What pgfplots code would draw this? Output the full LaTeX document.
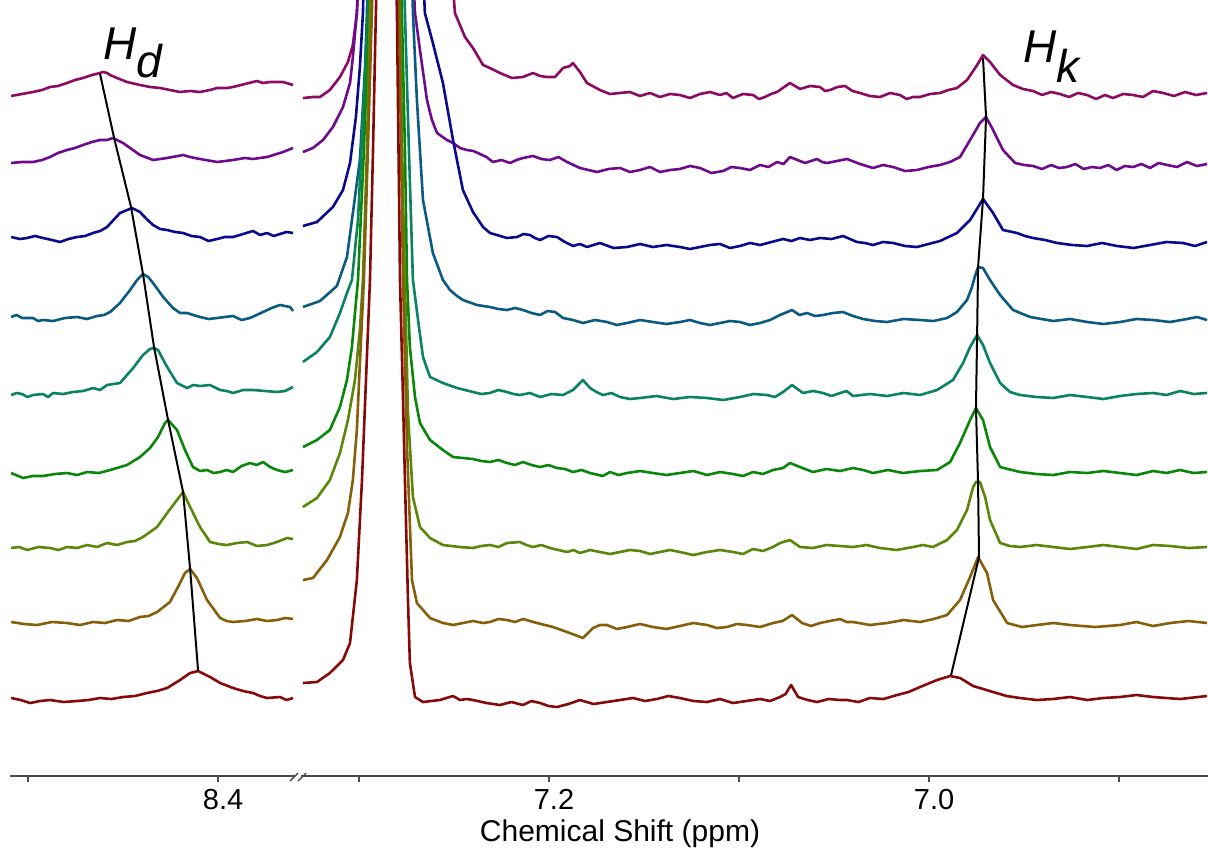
\documentclass[border=0pt]{standalone}
\usepackage{pgfplots}
\pgfplotsset{compat=1.18}
\usepackage{fontspec}
\setmainfont{Liberation Sans}

% one colour per titration step, bottom (c1) to top (c9)
\definecolor{c1}{RGB}{135,10,10}
\definecolor{c2}{RGB}{135,95,10}
\definecolor{c3}{RGB}{90,135,10}
\definecolor{c4}{RGB}{10,135,10}
\definecolor{c5}{RGB}{10,130,100}
\definecolor{c6}{RGB}{10,90,130}
\definecolor{c7}{RGB}{10,10,140}
\definecolor{c8}{RGB}{110,10,140}
\definecolor{c9}{RGB}{140,10,100}

\pgfplotsset{
  nmr/.style={
    scale only axis, height=388pt,
    ymin=0, ymax=776, x dir=reverse,
    axis x line*=bottom, axis y line=none,
    x axis line style={draw=black!70, line width=0.7pt},
    major tick style={draw=black!70, line width=0.7pt},
    tick align=outside, major tick length=3pt,
    xticklabel style={font=\fontsize{14.5}{17}\selectfont, xshift=2.5pt},
    no markers, clip=true,
    every axis plot/.append style={line width=1.3pt, line join=round},
  },
}

\begin{document}
\begin{tikzpicture}[x=1pt,y=1pt]
% ---------------- 8.51 -- 8.36 ppm ----------------
\begin{axis}[nmr, at={(5pt,0pt)}, anchor=south west, width=142.5pt,
  xmin=8.3595, xmax=8.5095, xtick={8.5,8.4}, xticklabels={,8.4}]
\addplot[c9] coordinates {(8.5089,680) (8.5032,682) (8.4974,684) (8.4926,686) (8.4884,689) (8.4842,690) (8.4795,693) (8.4753,696) (8.4711,698) (8.4663,701) (8.4621,703) (8.4605,704) (8.4584,703) (8.4568,701) (8.4532,698) (8.4479,694) (8.4411,691) (8.4358,689) (8.4305,688) (8.4253,686) (8.4200,684) (8.4147,685) (8.4095,684) (8.4042,686) (8.4005,688) (8.3953,688) (8.3921,689) (8.3858,692) (8.3795,695) (8.3763,693) (8.3726,694) (8.3658,694) (8.3605,691)};
\addplot[c8] coordinates {(8.5089,613) (8.5032,614) (8.4974,614) (8.4926,616) (8.4884,619) (8.4842,623) (8.4795,626) (8.4753,628) (8.4711,631) (8.4663,634) (8.4621,636) (8.4584,636) (8.4553,638) (8.4532,636) (8.4500,633) (8.4463,628) (8.4411,621) (8.4342,616) (8.4268,618) (8.4184,621) (8.4147,619) (8.4095,617) (8.4005,614) (8.3921,616) (8.3858,618) (8.3816,617) (8.3742,619) (8.3658,624) (8.3605,628)};
\addplot[c7] coordinates {(8.5089,539) (8.5042,537) (8.5005,538) (8.4963,540) (8.4921,538) (8.4874,536) (8.4832,534) (8.4787,537) (8.4742,539) (8.4700,540) (8.4658,543) (8.4621,545) (8.4584,549) (8.4550,556) (8.4516,563) (8.4453,568) (8.4411,564) (8.4376,557) (8.4342,551) (8.4305,547) (8.4268,546) (8.4226,544) (8.4184,543) (8.4140,540) (8.4095,539) (8.4050,535) (8.4005,537) (8.3963,539) (8.3921,539) (8.3868,542) (8.3816,545) (8.3779,541) (8.3742,543) (8.3708,540) (8.3674,542) (8.3640,544) (8.3605,543)};
\addplot[c6] coordinates {(8.5089,459) (8.5060,461) (8.5032,458) (8.4974,458) (8.4947,455) (8.4921,456) (8.4868,455) (8.4805,458) (8.4742,459) (8.4690,457) (8.4637,460) (8.4600,461) (8.4568,464) (8.4516,473) (8.4463,486) (8.4426,496) (8.4395,502) (8.4368,499) (8.4342,493) (8.4289,479) (8.4237,468) (8.4200,463) (8.4163,463) (8.4130,461) (8.4095,459) (8.4050,457) (8.4005,458) (8.3963,459) (8.3921,460) (8.3876,456) (8.3832,458) (8.3797,461) (8.3763,464) (8.3718,468) (8.3674,471) (8.3621,469) (8.3605,465)};
\addplot[c5] coordinates {(8.5089,381) (8.5060,383) (8.5032,382) (8.5003,379) (8.4974,381) (8.4921,382) (8.4895,379) (8.4868,383) (8.4816,382) (8.4763,384) (8.4710,385) (8.4658,388) (8.4621,386) (8.4584,391) (8.4516,393) (8.4447,408) (8.4395,421) (8.4358,427) (8.4337,428) (8.4316,426) (8.4268,409) (8.4216,393) (8.4163,388) (8.4130,391) (8.4095,390) (8.4042,391) (8.3989,386) (8.3955,385) (8.3921,383) (8.3868,386) (8.3816,386) (8.3753,385) (8.3689,384) (8.3647,385) (8.3605,389)};
\addplot[c4] coordinates {(8.5089,303) (8.5026,298) (8.4974,300) (8.4921,300) (8.4858,302) (8.4795,303) (8.4742,301) (8.4689,304) (8.4628,303) (8.4568,306) (8.4479,311) (8.4411,319) (8.4358,328) (8.4316,339) (8.4279,353) (8.4263,356) (8.4216,346) (8.4174,326) (8.4132,309) (8.4095,305) (8.4058,306) (8.4023,303) (8.3989,304) (8.3955,306) (8.3921,304) (8.3876,310) (8.3832,313) (8.3797,311) (8.3763,314) (8.3726,309) (8.3689,306) (8.3647,304) (8.3605,306)};
\addplot[c3] coordinates {(8.5089,228) (8.5047,229) (8.5005,226) (8.4945,229) (8.4884,228) (8.4840,226) (8.4795,229) (8.4742,228) (8.4689,231) (8.4637,229) (8.4584,233) (8.4532,231) (8.4479,234) (8.4437,235) (8.4395,239) (8.4321,249) (8.4268,263) (8.4216,276) (8.4184,284) (8.4147,269) (8.4095,249) (8.4042,234) (8.3997,232) (8.3953,231) (8.3900,233) (8.3847,234) (8.3795,230) (8.3742,231) (8.3690,234) (8.3637,238) (8.3605,237)};
\addplot[c2] coordinates {(8.5089,154) (8.5021,152) (8.4953,151) (8.4874,154) (8.4795,153) (8.4727,151) (8.4658,154) (8.4595,153) (8.4532,156) (8.4471,155) (8.4411,159) (8.4366,160) (8.4321,164) (8.4253,174) (8.4211,189) (8.4174,203) (8.4147,207) (8.4111,198) (8.4058,176) (8.3989,158) (8.3955,155) (8.3921,154) (8.3858,155) (8.3795,157) (8.3742,155) (8.3689,156) (8.3647,158) (8.3605,157)};
\addplot[c1] coordinates {(8.5089,78) (8.5039,76) (8.4989,73) (8.4937,75) (8.4884,76) (8.4813,74) (8.4742,75) (8.4682,76) (8.4621,78) (8.4561,77) (8.4500,79) (8.4437,80) (8.4374,83) (8.4321,85) (8.4268,88) (8.4200,96) (8.4147,103) (8.4105,105) (8.4042,99) (8.3989,93) (8.3921,88) (8.3868,85) (8.3816,83) (8.3779,80) (8.3742,78) (8.3674,79) (8.3640,76) (8.3605,78)};
% shift of H_d
\addplot[black, line width=1pt] coordinates {(8.4621,702) (8.4547,638) (8.4458,569) (8.4395,502) (8.4337,429) (8.4263,356) (8.4184,284) (8.4147,207) (8.4105,105)};
\end{axis}

% ---------------- 7.33 -- 6.85 ppm ----------------
\begin{axis}[nmr, at={(150.5pt,0pt)}, anchor=south west, width=453.5pt,
  xmin=6.8532, xmax=7.3305, xtick={7.3,7.2,7.1,7.0,6.9}, xticklabels={,7.2,,7.0,}]
\addplot[c9] coordinates {(7.3295,678) (7.3242,679) (7.3205,679) (7.3153,686) (7.3100,699) (7.3058,714) (7.3032,731) (7.3011,763) (7.3000,806) (7.2858,1000) (7.2511,806) (7.2495,763) (7.2442,739) (7.2400,728) (7.2347,711) (7.2311,708) (7.2258,703) (7.2195,698) (7.2137,699) (7.2084,703) (7.2047,700) (7.2011,699) (7.1968,699) (7.1926,708) (7.1889,710) (7.1874,713) (7.1837,704) (7.1800,693) (7.1732,686) (7.1679,682) (7.1626,683) (7.1574,684) (7.1521,680) (7.1468,683) (7.1416,679) (7.1363,682) (7.1311,681) (7.1258,678) (7.1205,682) (7.1153,684) (7.1100,681) (7.1066,683) (7.1032,678) (7.0979,682) (7.0926,681) (7.0895,677) (7.0863,679) (7.0832,682) (7.0800,684) (7.0732,693) (7.0679,687) (7.0626,690) (7.0574,689) (7.0547,685) (7.0521,686) (7.0482,689) (7.0442,690) (7.0403,685) (7.0363,683) (7.0311,680) (7.0258,679) (7.0205,683) (7.0153,681) (7.0118,677) (7.0084,679) (7.0047,679) (6.9995,682) (6.9942,683) (6.9898,686) (6.9853,688) (6.9800,696) (6.9747,711) (6.9716,721) (6.9679,714) (6.9626,701) (6.9558,691) (6.9505,687) (6.9453,685) (6.9405,681) (6.9358,684) (6.9311,682) (6.9263,679) (6.9216,683) (6.9168,681) (6.9121,677) (6.9074,681) (6.9032,678) (6.8979,682) (6.8926,681) (6.8874,679) (6.8821,685) (6.8768,683) (6.8711,680) (6.8653,684) (6.8595,681) (6.8537,683)};
\addplot[c8] coordinates {(7.3295,624) (7.3242,628) (7.3189,636) (7.3137,649) (7.3084,669) (7.3047,693) (7.3032,719) (7.3011,763) (7.3000,806) (7.2858,1000) (7.2716,806) (7.2705,763) (7.2679,726) (7.2642,676) (7.2616,656) (7.2589,643) (7.2537,636) (7.2505,633) (7.2468,628) (7.2432,626) (7.2398,625) (7.2363,622) (7.2329,619) (7.2295,614) (7.2250,616) (7.2205,613) (7.2171,616) (7.2137,618) (7.2084,620) (7.2040,617) (7.1995,616) (7.1950,619) (7.1905,614) (7.1871,611) (7.1837,608) (7.1792,606) (7.1747,604) (7.1687,607) (7.1626,608) (7.1574,604) (7.1521,606) (7.1468,609) (7.1416,604) (7.1363,606) (7.1311,607) (7.1258,610) (7.1205,608) (7.1145,603) (7.1084,605) (7.1040,609) (7.0995,608) (7.0942,606) (7.0889,611) (7.0845,609) (7.0800,614) (7.0766,612) (7.0732,619) (7.0692,616) (7.0653,613) (7.0621,615) (7.0589,617) (7.0563,614) (7.0537,613) (7.0484,615) (7.0432,617) (7.0363,612) (7.0295,608) (7.0242,611) (7.0189,609) (7.0126,605) (7.0063,606) (7.0003,609) (6.9942,611) (6.9890,614) (6.9837,619) (6.9784,636) (6.9732,653) (6.9700,659) (6.9663,646) (6.9611,626) (6.9547,613) (6.9500,611) (6.9453,610) (6.9405,607) (6.9358,611) (6.9316,608) (6.9274,609) (6.9230,612) (6.9187,607) (6.9143,609) (6.9100,608) (6.9056,611) (6.9013,606) (6.8970,610) (6.8926,609) (6.8882,612) (6.8837,608) (6.8792,613) (6.8747,611) (6.8695,609) (6.8642,614) (6.8590,610) (6.8537,612)};
\addplot[c7] coordinates {(7.3295,550) (7.3221,554) (7.3137,569) (7.3084,586) (7.3047,613) (7.3016,659) (7.2995,709) (7.2979,763) (7.2974,806) (7.2858,1000) (7.2663,806) (7.2653,763) (7.2611,733) (7.2558,693) (7.2505,636) (7.2453,586) (7.2400,564) (7.2347,549) (7.2310,543) (7.2274,541) (7.2221,538) (7.2168,539) (7.2134,542) (7.2100,541) (7.2074,538) (7.2047,536) (7.2003,540) (7.1958,539) (7.1916,534) (7.1874,530) (7.1837,532) (7.1800,529) (7.1766,531) (7.1732,533) (7.1660,528) (7.1589,529) (7.1521,532) (7.1453,529) (7.1382,531) (7.1311,529) (7.1258,527) (7.1205,529) (7.1153,531) (7.1100,532) (7.1047,528) (7.0995,530) (7.0942,533) (7.0889,531) (7.0829,534) (7.0768,537) (7.0724,535) (7.0679,538) (7.0627,536) (7.0574,538) (7.0513,537) (7.0453,540) (7.0416,537) (7.0379,534) (7.0337,533) (7.0295,531) (7.0242,534) (7.0189,533) (7.0126,530) (7.0063,529) (7.0003,532) (6.9942,535) (6.9898,539) (6.9853,543) (6.9784,556) (6.9716,577) (6.9663,563) (6.9611,546) (6.9537,543) (6.9495,540) (6.9453,538) (6.9390,536) (6.9326,533) (6.9247,531) (6.9168,530) (6.9090,533) (6.9011,530) (6.8924,528) (6.8837,531) (6.8750,534) (6.8663,533) (6.8600,530) (6.8537,534)};
\addplot[c6] coordinates {(7.3295,469) (7.3205,475) (7.3116,490) (7.3063,519) (7.3032,563) (7.2995,616) (7.2968,709) (7.2958,763) (7.2953,806) (7.2858,1000) (7.2721,806) (7.2716,763) (7.2695,676) (7.2663,576) (7.2611,523) (7.2558,496) (7.2521,486) (7.2484,480) (7.2453,476) (7.2379,471) (7.2311,469) (7.2266,467) (7.2221,466) (7.2179,468) (7.2137,466) (7.2092,463) (7.2047,461) (7.2008,465) (7.1968,464) (7.1926,458) (7.1874,456) (7.1821,453) (7.1758,456) (7.1695,454) (7.1642,451) (7.1589,453) (7.1521,456) (7.1453,454) (7.1382,452) (7.1311,454) (7.1258,456) (7.1205,453) (7.1153,451) (7.1100,453) (7.1047,455) (7.0995,454) (7.0942,451) (7.0889,453) (7.0837,456) (7.0784,461) (7.0721,466) (7.0682,461) (7.0642,463) (7.0600,460) (7.0558,461) (7.0505,463) (7.0453,464) (7.0400,460) (7.0347,457) (7.0284,455) (7.0221,454) (7.0134,457) (7.0047,456) (6.9976,455) (6.9905,458) (6.9853,464) (6.9800,476) (6.9774,489) (6.9758,500) (6.9742,509) (6.9716,508) (6.9679,496) (6.9626,481) (6.9558,466) (6.9468,459) (6.9408,457) (6.9347,455) (6.9258,457) (6.9168,454) (6.9082,452) (6.8995,454) (6.8908,457) (6.8821,456) (6.8732,454) (6.8642,457) (6.8590,459) (6.8537,456)};
\addplot[c5] coordinates {(7.3295,414) (7.3221,424) (7.3153,439) (7.3100,463) (7.3063,483) (7.3037,496) (7.3005,556) (7.2979,656) (7.2953,763) (7.2947,806) (7.2858,1000) (7.2763,806) (7.2758,763) (7.2737,626) (7.2716,496) (7.2689,456) (7.2663,419) (7.2626,399) (7.2558,393) (7.2484,388) (7.2400,384) (7.2356,382) (7.2311,383) (7.2266,386) (7.2221,384) (7.2187,382) (7.2153,381) (7.2100,383) (7.2047,379) (7.1987,382) (7.1926,381) (7.1874,386) (7.1821,396) (7.1784,388) (7.1750,384) (7.1716,381) (7.1671,383) (7.1626,379) (7.1574,377) (7.1521,378) (7.1434,380) (7.1347,377) (7.1258,379) (7.1168,378) (7.1082,376) (7.0995,379) (7.0924,382) (7.0853,381) (7.0811,379) (7.0768,384) (7.0721,391) (7.0663,383) (7.0611,385) (7.0558,383) (7.0513,380) (7.0468,383) (7.0434,385) (7.0400,380) (7.0311,382) (7.0221,380) (7.0134,383) (7.0047,381) (6.9958,386) (6.9874,396) (6.9821,413) (6.9784,429) (6.9747,441) (6.9716,431) (6.9679,413) (6.9626,393) (6.9574,384) (6.9521,381) (6.9434,379) (6.9347,378) (6.9258,381) (6.9168,379) (6.9082,377) (6.8995,380) (6.8908,382) (6.8821,383) (6.8750,381) (6.8679,385) (6.8608,382) (6.8537,383)};
\addplot[c4] coordinates {(7.3295,329) (7.3221,336) (7.3153,346) (7.3100,369) (7.3063,396) (7.3037,429) (7.3021,463) (7.3005,496) (7.2974,626) (7.2947,763) (7.2942,806) (7.2858,1000) (7.2779,806) (7.2774,763) (7.2758,626) (7.2747,496) (7.2732,429) (7.2705,379) (7.2679,353) (7.2626,336) (7.2558,326) (7.2505,319) (7.2400,317) (7.2356,315) (7.2311,314) (7.2266,316) (7.2221,313) (7.2179,311) (7.2137,314) (7.2092,311) (7.2047,309) (7.2003,311) (7.1958,308) (7.1916,307) (7.1874,304) (7.1829,306) (7.1784,303) (7.1716,300) (7.1679,304) (7.1634,301) (7.1589,303) (7.1521,305) (7.1453,303) (7.1382,301) (7.1311,303) (7.1240,305) (7.1168,301) (7.1100,304) (7.1032,302) (7.0979,300) (7.0926,304) (7.0874,302) (7.0821,306) (7.0768,308) (7.0732,313) (7.0679,309) (7.0611,304) (7.0540,307) (7.0468,305) (7.0400,308) (7.0347,306) (7.0295,303) (7.0216,306) (7.0137,303) (7.0047,305) (6.9958,306) (6.9889,314) (6.9837,333) (6.9784,356) (6.9753,368) (6.9716,356) (6.9679,329) (6.9626,309) (6.9521,304) (6.9434,302) (6.9347,301) (6.9258,304) (6.9168,303) (6.9082,305) (6.8995,303) (6.8908,301) (6.8821,305) (6.8750,303) (6.8679,306) (6.8608,303) (6.8537,304)};
\addplot[c3] coordinates {(7.3295,269) (7.3221,278) (7.3153,296) (7.3100,323) (7.3058,356) (7.3021,396) (7.2995,446) (7.2979,496) (7.2958,626) (7.2942,763) (7.2937,806) (7.2858,1000) (7.2789,806) (7.2784,763) (7.2768,576) (7.2758,496) (7.2742,363) (7.2716,279) (7.2679,249) (7.2626,238) (7.2558,231) (7.2468,229) (7.2400,228) (7.2356,230) (7.2311,231) (7.2266,229) (7.2221,233) (7.2153,234) (7.2119,231) (7.2084,229) (7.2040,231) (7.1995,228) (7.1950,226) (7.1905,224) (7.1871,226) (7.1837,223) (7.1784,226) (7.1732,224) (7.1679,222) (7.1626,224) (7.1574,226) (7.1521,225) (7.1468,222) (7.1416,224) (7.1363,226) (7.1311,224) (7.1240,221) (7.1168,224) (7.1100,226) (7.1032,224) (7.0979,222) (7.0926,227) (7.0874,225) (7.0821,229) (7.0784,233) (7.0732,236) (7.0679,229) (7.0611,228) (7.0540,231) (7.0468,230) (7.0400,229) (7.0329,231) (7.0258,228) (7.0171,226) (7.0084,229) (7.0032,231) (6.9979,229) (6.9905,236) (6.9853,246) (6.9800,266) (6.9768,289) (6.9753,294) (6.9732,294) (6.9705,279) (6.9679,256) (6.9626,233) (6.9574,230) (6.9521,229) (6.9434,231) (6.9347,229) (6.9258,227) (6.9168,229) (6.9082,231) (6.8995,229) (6.8908,227) (6.8821,231) (6.8732,230) (6.8634,228) (6.8537,229)};
\addplot[c2] coordinates {(7.3295,196) (7.3242,198) (7.3168,216) (7.3100,239) (7.3058,263) (7.3032,296) (7.3011,346) (7.2995,413) (7.2974,496) (7.2953,626) (7.2932,763) (7.2926,806) (7.2858,1000) (7.2795,806) (7.2789,763) (7.2768,496) (7.2747,329) (7.2721,196) (7.2695,173) (7.2626,158) (7.2558,153) (7.2505,151) (7.2453,153) (7.2400,155) (7.2347,153) (7.2311,154) (7.2266,157) (7.2221,156) (7.2179,154) (7.2137,157) (7.2100,155) (7.2063,153) (7.1979,149) (7.1905,144) (7.1821,138) (7.1768,148) (7.1732,151) (7.1695,151) (7.1642,147) (7.1589,149) (7.1521,152) (7.1453,149) (7.1382,147) (7.1311,150) (7.1240,153) (7.1168,151) (7.1116,148) (7.1063,149) (7.1011,152) (7.0958,151) (7.0889,149) (7.0821,153) (7.0771,155) (7.0721,161) (7.0668,153) (7.0621,150) (7.0574,153) (7.0521,155) (7.0468,157) (7.0434,154) (7.0400,154) (7.0311,151) (7.0221,153) (7.0134,156) (7.0047,154) (6.9976,157) (6.9905,161) (6.9837,176) (6.9784,199) (6.9742,219) (6.9695,203) (6.9663,176) (6.9589,153) (6.9511,149) (6.9432,151) (6.9345,153) (6.9258,151) (6.9126,149) (6.8995,151) (6.8908,154) (6.8821,150) (6.8732,153) (6.8634,155) (6.8537,153)};
\addplot[c1] coordinates {(7.3295,93) (7.3221,94) (7.3153,103) (7.3084,116) (7.3047,133) (7.3011,196) (7.2984,296) (7.2963,396) (7.2942,496) (7.2926,626) (7.2911,763) (7.2905,806) (7.2858,1000) (7.2805,806) (7.2800,763) (7.2784,496) (7.2768,376) (7.2758,296) (7.2742,176) (7.2732,113) (7.2705,79) (7.2663,74) (7.2574,76) (7.2505,80) (7.2468,76) (7.2432,77) (7.2400,76) (7.2329,73) (7.2258,71) (7.2198,74) (7.2137,71) (7.2092,75) (7.2047,73) (7.2003,70) (7.1958,69) (7.1898,72) (7.1837,76) (7.1766,72) (7.1695,74) (7.1626,76) (7.1558,78) (7.1495,75) (7.1432,77) (7.1372,80) (7.1311,78) (7.1240,75) (7.1168,74) (7.1100,77) (7.1032,73) (7.0961,75) (7.0889,77) (7.0837,75) (7.0784,79) (7.0755,82) (7.0726,91) (7.0689,79) (7.0639,76) (7.0589,74) (7.0528,77) (7.0468,76) (7.0432,76) (7.0371,74) (7.0311,78) (7.0240,77) (7.0168,81) (7.0108,84) (7.0047,89) (6.9958,96) (6.9889,100) (6.9837,98) (6.9768,90) (6.9663,84) (6.9592,80) (6.9521,78) (6.9434,76) (6.9347,77) (6.9258,79) (6.9168,76) (6.9082,78) (6.8995,79) (6.8908,81) (6.8821,79) (6.8679,77) (6.8537,80)};
% shift of H_k
\addplot[black, line width=1pt] coordinates {(6.9716,718) (6.9700,659) (6.9716,577) (6.9742,509) (6.9747,441) (6.9753,368) (6.9742,293) (6.9737,219) (6.9884,101)};
\end{axis}

% axis break
\draw[black!70, line width=0.7pt] (145,-2.5) -- (149,1.5) (149,-2.5) -- (153,1.5);
\node[anchor=base] at (310,-32.5) {\fontsize{15}{18}\selectfont Chemical Shift (ppm)};
\node[anchor=base west, inner sep=0pt] at (51.5,358) {\fontsize{23}{27}\selectfont\itshape H\raisebox{-9pt}{d}};
\node[anchor=base west, inner sep=0pt] at (511.5,356.5) {\fontsize{23}{27}\selectfont\itshape H\raisebox{-10pt}{k}};
\pgfresetboundingbox
\path[use as bounding box] (0,-36) rectangle (604,388);
\end{tikzpicture}
\end{document}
